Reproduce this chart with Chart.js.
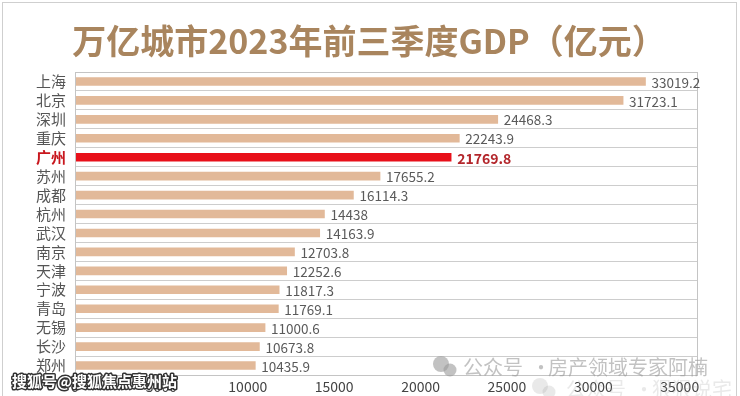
<!DOCTYPE html>
<html>
<head>
<meta charset="utf-8">
<script src="https://cdn.jsdelivr.net/npm/chart.js@4/dist/chart.umd.min.js"></script>
<style>
  html, body { margin: 0; padding: 0; background: #fff; }
  #wrap { width: 740px; height: 396px; }
</style>
</head>
<body>
<div id="wrap"><canvas id="gdp-chart" width="740" height="396"></canvas></div>
<script>
// ==== Data ====
const cities = ['上海', '北京', '深圳', '重庆', '广州', '苏州', '成都', '杭州',
  '武汉', '南京', '天津', '宁波', '青岛', '无锡', '长沙', '郑州'];
const gdp = [33019.2, 31723.1, 24468.3, 22243.9, 21769.8, 17655.2, 16114.3, 14438,
  14163.9, 12703.8, 12252.6, 11817.3, 11769.1, 11000.6, 10673.8, 10435.9];
const xTicks = [0, 5000, 10000, 15000, 20000, 25000, 30000, 35000];
const highlightCity = '广州';
const chartTitle = '万亿城市2023年前三季度GDP（亿元）';

const FONT = '"Noto Sans CJK SC", "Noto Sans", sans-serif';
const TAN = '#e2b999';
const RED = '#e8101a';
const isHot = i => cities[i] === highlightCity;

// ==== Plugins ====
function wechatMark(ctx, x, y, parts) {
  // two bubbles + text pieces
  ctx.beginPath(); ctx.arc(x, y - 3, 8, 0, Math.PI * 2); ctx.fill();
  ctx.beginPath(); ctx.arc(x + 9, y + 3, 6.5, 0, Math.PI * 2); ctx.fill();
  parts.forEach(p => ctx.fillText(p[0], p[1], y));
}

const framePlugin = {
  id: 'frame',
  beforeDraw(chart) {
    const { ctx, width, height } = chart;
    ctx.save();
    ctx.fillStyle = '#fff';
    ctx.fillRect(0, 0, width, height);
    ctx.strokeStyle = '#cfcfcf';
    ctx.lineWidth = 1;
    ctx.strokeRect(2.5, 2.5, width - 6, height - 2);

    // title
    ctx.font = 'bold 34px ' + FONT;
    ctx.fillStyle = '#a9855e';
    ctx.textAlign = 'center';
    ctx.textBaseline = 'middle';
    ctx.fillText(chartTitle, 369, 41);
    ctx.restore();
  },
  afterDatasetsDraw(chart) {
    const { ctx, chartArea } = chart;
    ctx.save();
    ctx.strokeStyle = '#c4c4c4';
    ctx.lineWidth = 1;
    ctx.strokeRect(Math.round(chartArea.left) + 0.5, Math.round(chartArea.top) + 0.5,
      Math.round(chartArea.right - chartArea.left), Math.round(chartArea.bottom - chartArea.top));

    // value labels at bar ends
    const meta = chart.getDatasetMeta(0);
    ctx.textBaseline = 'middle';
    ctx.textAlign = 'left';
    meta.data.forEach((bar, i) => {
      ctx.font = (isHot(i) ? 'bold 14px ' : '13.5px ') + FONT;
      ctx.fillStyle = isHot(i) ? '#b3262b' : '#5a5a5a';
      ctx.fillText(String(gdp[i]), bar.x + 6, bar.y + 1);
    });
    ctx.restore();
  },
  afterDraw(chart) {
    const { ctx } = chart;
    ctx.save();
    ctx.font = '20px ' + FONT;
    ctx.textBaseline = 'middle';
    ctx.fillStyle = '#9a9a9a';
    // faint second watermark, partly off the bottom edge
    ctx.globalAlpha = 0.22;
    wechatMark(ctx, 540, 389, [['公众号', 566], ['·', 634], ['狠狠说宅', 652]]);
    // main wechat watermark
    ctx.globalAlpha = 0.6;
    wechatMark(ctx, 441, 367, [['公众号', 463], ['·', 531], ['房产领域专家阿楠', 548]]);
    ctx.globalAlpha = 1;
    // watermark: sohu
    ctx.font = 'bold 15px ' + FONT;
    ctx.lineWidth = 3;
    ctx.lineJoin = 'round';
    ctx.strokeStyle = '#333';
    ctx.fillStyle = '#fff';
    ctx.strokeText('搜狐号@搜狐焦点惠州站', 12, 381);
    ctx.fillText('搜狐号@搜狐焦点惠州站', 12, 381);
    ctx.restore();
  }
};

// ==== Chart ====
const ctx = document.getElementById('gdp-chart').getContext('2d');
new Chart(ctx, {
  type: 'bar',
  data: {
    labels: cities,
    datasets: [{
      data: gdp,
      backgroundColor: cities.map((c, i) => isHot(i) ? RED : TAN),
      barThickness: cities.map((c, i) => isHot(i) ? 9 : 8),
      borderWidth: 0
    }]
  },
  options: {
    indexAxis: 'y',
    responsive: false,
    animation: false,
    layout: { padding: { left: 3, right: 43, top: 72, bottom: 0 } },
    plugins: {
      legend: { display: false },
      tooltip: { enabled: false },
      title: { display: false }
    },
    scales: {
      x: {
        min: 0,
        max: 36000,
        afterBuildTicks: scale => { scale.ticks = xTicks.map(v => ({ value: v })); },
        afterFit: scale => { scale.height = 21; },
        grid: { display: false, drawTicks: false },
        border: { display: false },
        ticks: {
          color: '#444',
          padding: 3,
          maxRotation: 0,
          callback: value => String(value),
          font: { family: FONT, size: 14 }
        }
      },
      y: {
        afterFit: scale => { scale.width = 72; },
        grid: { color: '#cdcdcd', drawTicks: false, offset: true },
        border: { display: false },
        ticks: {
          autoSkip: false,
          padding: 9,
          color: (c) => cities[c.index] === highlightCity ? '#c8161d' : '#555',
          font: (c) => ({ family: FONT, size: 15, weight: cities[c.index] === highlightCity ? 'bold' : 'normal' })
        }
      }
    }
  },
  plugins: [framePlugin]
});
</script>
</body>
</html>
